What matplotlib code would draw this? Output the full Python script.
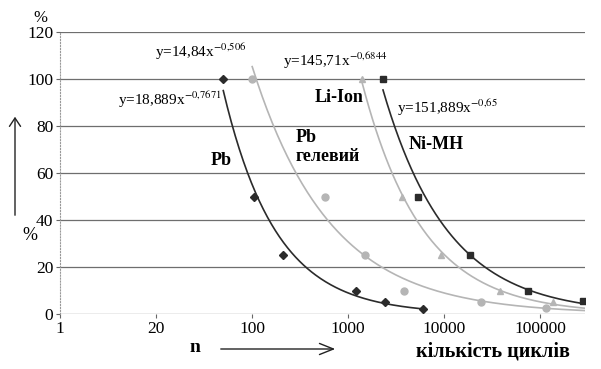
import numpy as np
import matplotlib
matplotlib.use("Agg")
import matplotlib.pyplot as plt

plt.rcParams['font.family'] = ['Liberation Serif', 'DejaVu Serif']
plt.rcParams['mathtext.fontset'] = 'stix'

# cycles vs. remaining capacity
pb_x = [50, 105, 210, 1200, 2400, 6000]
pb_y = [100, 50, 25, 10, 5, 2]
gel_x = [100, 570, 1500, 3800, 24000, 115000]
gel_y = [100, 50, 25, 10, 5, 2.5]
li_x = [1400, 3600, 9300, 38000, 136000]
li_y = [100, 50, 25, 10, 5]
ni_x = [2300, 5300, 18600, 75000, 280000]
ni_y = [100, 50, 25, 10, 5.5]

xticks = [1, 10, 100, 1000, 10000, 100000]
xtick_labels = ['1', '20', '100', '1000', '10000', '100000']
yticks = [0, 20, 40, 60, 80, 100, 120]

dark = '#2b2b2b'
light = '#b5b5b5'

fig = plt.figure(figsize=(6.01, 3.69), dpi=100)
ax = fig.add_axes([0.1, 0.149, 0.873, 0.764])


def power_fit(xs, ys, x_end):
    # power trendline, fitted in log-log space (weighted toward large values)
    b, a = np.polyfit(np.log(xs), np.log(ys), 1, w=np.sqrt(ys))
    xx = np.logspace(np.log10(xs[0]), np.log10(x_end), 200)
    return xx, np.exp(a) * xx ** b


series = [
    (pb_x, pb_y, dark, 'D', 4.5, pb_x[-1]),
    (gel_x, gel_y, light, 'o', 5, 2.9e5),
    (li_x, li_y, light, '^', 5, 2.9e5),
    (ni_x, ni_y, dark, 's', 4.5, 2.9e5),
]
for xs, ys, col, mk, ms, x_end in series:
    fx, fy = power_fit(xs, ys, x_end)
    ax.plot(fx, fy, color=col, lw=1.2, zorder=3)
    ax.plot(xs, ys, ls='none', marker=mk, ms=ms, color=col, zorder=4)

ax.set_xscale('log')
ax.set_xlim(1, 2.9e5)
ax.set_ylim(0, 120)
ax.set_xticks(xticks)
ax.set_xticklabels(xtick_labels)
ax.xaxis.set_minor_locator(matplotlib.ticker.NullLocator())
ax.set_yticks(yticks)
ax.tick_params(labelsize=12.5, length=3, color='#666', pad=2)
ax.yaxis.grid(True, color='#6e6e6e', lw=0.9)
ax.set_axisbelow(True)
for s in ['top', 'right', 'bottom']:
    ax.spines[s].set_visible(False)
ax.spines['left'].set_color('#999')
ax.spines['left'].set_linestyle(':')

# equations of the trendlines
ax.text(87, 111.5, r'y=14,84x$^{-0{,}506}$', ha='right', va='center', fontsize=11)
ax.text(207, 108, r'y=145,71x$^{-0{,}6844}$', ha='left', va='center', fontsize=11)
ax.text(48, 91, r'y=18,889x$^{-0{,}7671}$', ha='right', va='center', fontsize=11)
ax.text(3230, 88, r'y=151,889x$^{-0{,}65}$', ha='left', va='center', fontsize=11)

# battery type labels
ax.text(48, 65.5, 'Pb', ha='center', va='center', fontsize=13, fontweight='bold')
ax.text(282, 75, 'Pb', ha='left', va='center', fontsize=13, fontweight='bold')
ax.text(282, 67, 'гелевий', ha='left', va='center', fontsize=13, fontweight='bold')
ax.text(445, 92, 'Li-Ion', ha='left', va='center', fontsize=13, fontweight='bold')
ax.text(4300, 72, 'Ni-MH', ha='left', va='center', fontsize=13, fontweight='bold')

# axis captions and arrows
fig.text(40 / 601, 1 - 18 / 369, '%', ha='center', va='center', fontsize=12)
fig.text(30 / 601, 1 - 236 / 369, '%', ha='center', va='center', fontsize=13)
fig.text(195 / 601, 1 - 348 / 369, 'n', ha='center', va='center', fontsize=14, fontweight='bold')
fig.text(493 / 601, 1 - 352 / 369, 'кількість циклів', ha='center', va='center',
         fontsize=14.5, fontweight='bold')
fig.add_artist(matplotlib.patches.FancyArrowPatch(
    (15 / 601, 1 - 218 / 369), (15 / 601, 1 - 114 / 369), transform=fig.transFigure,
    arrowstyle='->,head_length=6,head_width=4', color='#222', lw=1.0))
fig.add_artist(matplotlib.patches.FancyArrowPatch(
    (218 / 601, 1 - 349 / 369), (338 / 601, 1 - 349 / 369), transform=fig.transFigure,
    arrowstyle='->,head_length=10,head_width=4', color='#222', lw=1.0))

fig.savefig('out.png', dpi=100)
